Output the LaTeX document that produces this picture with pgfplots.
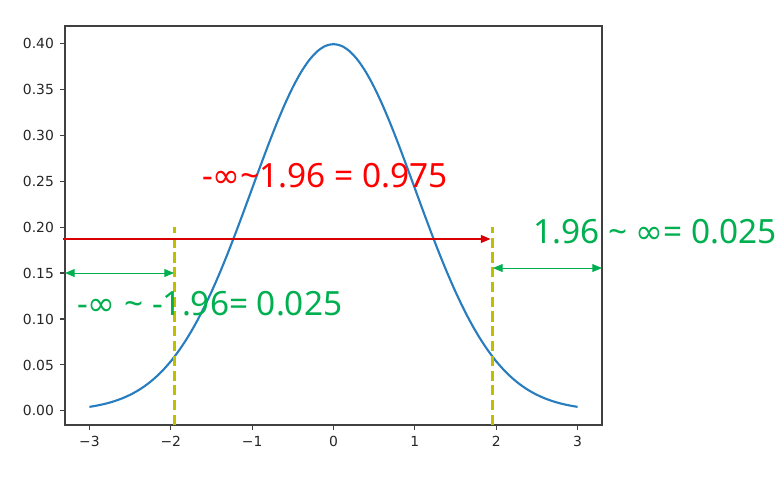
\documentclass[border=0pt]{standalone}
\usepackage{fontspec}
\setmainfont{DejaVu Sans}
\newfontfamily\annfont{Noto Sans}
\newfontfamily\djv{DejaVu Sans}
\newcommand\infs{{\djv ∞}}
\usepackage{pgfplots}
\pgfplotsset{compat=1.18}
\usetikzlibrary{arrows.meta}
\definecolor{mplblue}{RGB}{40,125,190}
\definecolor{mplyellow}{RGB}{191,191,0}
\definecolor{anngreen}{RGB}{0,176,80}
\definecolor{arrred}{RGB}{215,0,0}
\definecolor{ticktext}{RGB}{38,38,38}
\tikzset{
  ann/.style={font=\annfont\fontsize{19}{21}\selectfont, inner sep=0pt, anchor=base west},
  garr/.style={anngreen, line width=0.55pt, {Triangle[length=5.5pt,width=4.5pt]}-{Triangle[length=5.5pt,width=4.5pt]}},
}
\begin{document}
\begin{tikzpicture}
\useasboundingbox (-1.3cm,-1.18cm) rectangle (14.34cm,8.5cm);
\begin{axis}[
    at={(0,0)}, anchor=south west,
    scale only axis, width=10.74cm, height=7.98cm,
    xmin=-3.3, xmax=3.3, ymin=-0.01529, ymax=0.41866,
    axis line style={black!75, line width=0.6pt},
    tick style={black!75, line width=0.6pt},
    tick align=outside, major tick length=2.8pt,
    xtick={-3,-2,-1,0,1,2,3},
    xticklabels={−3,−2,−1,0,1,2,3},
    ytick={0,0.05,0.1,0.15,0.2,0.25,0.3,0.35,0.4},
    yticklabels={0.00,0.05,0.10,0.15,0.20,0.25,0.30,0.35,0.40},
    ticklabel style={font=\fontsize{7.9}{9}\selectfont, text=ticktext},
    xtick pos=bottom, ytick pos=left,
    clip=false,
  ]
  % standard normal density
  \addplot[mplblue, line width=1.2pt, smooth] coordinates {
    (-3.0,0.00443) (-2.9,0.00595) (-2.8,0.00792) (-2.7,0.01042) (-2.6,0.01358)
    (-2.5,0.01753) (-2.4,0.02239) (-2.3,0.02833) (-2.2,0.03547) (-2.1,0.04398)
    (-2.0,0.05399) (-1.9,0.06562) (-1.8,0.07895) (-1.7,0.09405) (-1.6,0.11092)
    (-1.5,0.12952) (-1.4,0.14973) (-1.3,0.17137) (-1.2,0.19419) (-1.1,0.21785)
    (-1.0,0.24197) (-0.9,0.26609) (-0.8,0.28969) (-0.7,0.31225) (-0.6,0.33322)
    (-0.5,0.35207) (-0.4,0.36827) (-0.3,0.38139) (-0.2,0.39104) (-0.1,0.39695)
    (0.0,0.39894)
    (0.1,0.39695) (0.2,0.39104) (0.3,0.38139) (0.4,0.36827) (0.5,0.35207)
    (0.6,0.33322) (0.7,0.31225) (0.8,0.28969) (0.9,0.26609) (1.0,0.24197)
    (1.1,0.21785) (1.2,0.19419) (1.3,0.17137) (1.4,0.14973) (1.5,0.12952)
    (1.6,0.11092) (1.7,0.09405) (1.8,0.07895) (1.9,0.06562) (2.0,0.05399)
    (2.1,0.04398) (2.2,0.03547) (2.3,0.02833) (2.4,0.02239) (2.5,0.01753)
    (2.6,0.01358) (2.7,0.01042) (2.8,0.00792) (2.9,0.00595) (3.0,0.00443)
  };
  % critical values
  \addplot[mplyellow, line width=1.7pt, dash pattern=on 5.8pt off 2.6pt]
    coordinates {(-1.96,-0.01529) (-1.96,0.2)};
  \addplot[mplyellow, line width=1.7pt, dash pattern=on 5.8pt off 2.6pt]
    coordinates {(1.96,-0.01529) (1.96,0.2)};
  % arrows
  \draw[arrred, line width=0.6pt, -{Triangle[length=5.5pt,width=4.5pt]}]
    (axis cs:-3.33,0.187) -- (axis cs:1.93,0.187);
  \draw[garr] (axis cs:-3.3,0.150) -- (axis cs:-1.96,0.150);
  \draw[garr] (axis cs:1.96,0.1554) -- (axis cs:3.3,0.1554);
  % labels
  \node[ann, text=red] at (axis cs:-1.62,0.2431) {-\infs\textasciitilde1.96 = 0.975};
  \node[ann, text=anngreen] at (axis cs:2.45,0.1825) {1.96 \textasciitilde{} \infs= 0.025};
  \node[ann, text=anngreen] at (axis cs:-3.155,0.1043) {-\infs{} \textasciitilde{} -1.96= 0.025};
\end{axis}
\end{tikzpicture}
\end{document}
